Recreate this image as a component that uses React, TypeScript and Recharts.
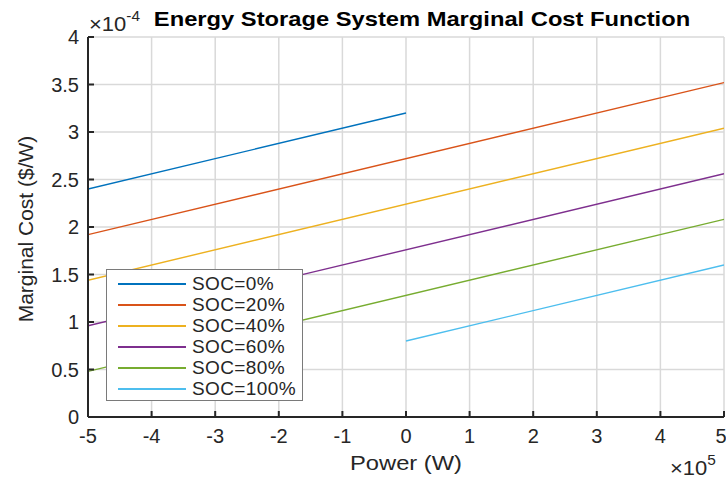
import React from 'react';
import { LineChart, Line, XAxis, YAxis, CartesianGrid, Legend } from 'recharts';

// power in units of 1e5 W, marginal cost in units of 1e-4 $/W
const socLabels = ['SOC=0%', 'SOC=20%', 'SOC=40%', 'SOC=60%', 'SOC=80%', 'SOC=100%'];
const socColors = ['#0072BD', '#D95319', '#EDB120', '#7E2F8E', '#77AC30', '#4DBEEE'];
const powerStart = [-5, -5, -5, -5, -5, 0];
const powerEnd = [0, 5, 5, 5, 5, 5];
const costStart = [2.4, 1.92, 1.44, 0.96, 0.48, 0.8];
const costEnd = [3.2, 3.52, 3.04, 2.56, 2.08, 1.6];

const xTicks = [-5, -4, -3, -2, -1, 0, 1, 2, 3, 4, 5];
const yTicks = [0, 0.5, 1, 1.5, 2, 2.5, 3, 3.5, 4];

const series = socLabels.map((name, i) => ({
  name,
  color: socColors[i],
  data: [
    { x: powerStart[i], y: costStart[i] },
    { x: powerEnd[i], y: costEnd[i] },
  ],
}));

const ink = '#262626';
const font = '"Liberation Sans", Arial, Helvetica, sans-serif';

function LegendBox() {
  return (
    <div
      style={{
        width: 197,
        height: 132,
        boxSizing: 'border-box',
        border: '1px solid #7a7a7a',
        background: '#fff',
        padding: '3px 0 0 0',
        fontFamily: font,
      }}
    >
      {series.map((s) => (
        <div key={s.name} style={{ display: 'flex', alignItems: 'center', height: 21 }}>
          <div style={{ marginLeft: 11, width: 68, height: 2, background: s.color }} />
          <span
            style={{ marginLeft: 6, fontSize: 19, letterSpacing: 0.4, color: ink, lineHeight: '20px' }}
          >
            {s.name}
          </span>
        </div>
      ))}
    </div>
  );
}

export default function App() {
  return (
    <div style={{ position: 'absolute', left: 0, top: 0, width: 726, height: 479, background: '#fff' }}>
      <LineChart width={726} height={479} margin={{ top: 37, right: 2, bottom: 32, left: 0 }}>
        <CartesianGrid stroke="#d9d9d9" strokeWidth={1.5} />
        <XAxis
          type="number"
          dataKey="x"
          domain={[-5, 5]}
          ticks={xTicks}
          allowDataOverflow
          height={30}
          axisLine={{ stroke: ink, strokeWidth: 2 }}
          tickLine={{ stroke: ink, strokeWidth: 2 }}
          tickSize={-6}
          tickMargin={18}
          tick={{ fill: ink, fontSize: 20, fontFamily: font }}
        />
        <YAxis
          type="number"
          domain={[0, 4]}
          ticks={yTicks}
          allowDataOverflow
          width={88}
          axisLine={{ stroke: ink, strokeWidth: 2 }}
          tickLine={{ stroke: ink, strokeWidth: 2 }}
          tickSize={-6}
          tickMargin={15}
          tick={{ fill: ink, fontSize: 20, fontFamily: font }}
        />
        <Legend
          layout="vertical"
          align="center"
          verticalAlign="middle"
          content={() => <LegendBox />}
          wrapperStyle={{ left: 106, top: 269, width: 197 }}
        />
        {series.map((s) => (
          <Line
            key={s.name}
            data={s.data}
            dataKey="y"
            name={s.name}
            stroke={s.color}
            strokeWidth={1.4}
            dot={false}
            activeDot={false}
            isAnimationActive={false}
          />
        ))}
      </LineChart>
      <svg
        width={726}
        height={479}
        style={{ position: 'absolute', left: 0, top: 0, pointerEvents: 'none' }}
        fontFamily={font}
      >
        <text
          transform="translate(422 26) scale(1.13 1)"
          textAnchor="middle"
          fontSize={21}
          fontWeight="bold"
          fill="#000"
        >
          Energy Storage System Marginal Cost Function
        </text>
        <text transform="translate(89 31) scale(1.1 1)" fontSize={20} fill={ink}>
          ×10<tspan dy={-10} fontSize={14}>-4</tspan>
        </text>
        <text transform="translate(670 475) scale(1.1 1)" fontSize={20} fill={ink}>
          ×10<tspan dy={-10} fontSize={14}>5</tspan>
        </text>
        <text transform="translate(406 470) scale(1.13 1)" textAnchor="middle" fontSize={21} fill={ink}>
          Power (W)
        </text>
        <text transform="translate(33 229) rotate(-90)" textAnchor="middle" fontSize={21} fill={ink}>
          Marginal Cost ($/W)
        </text>
      </svg>
    </div>
  );
}
